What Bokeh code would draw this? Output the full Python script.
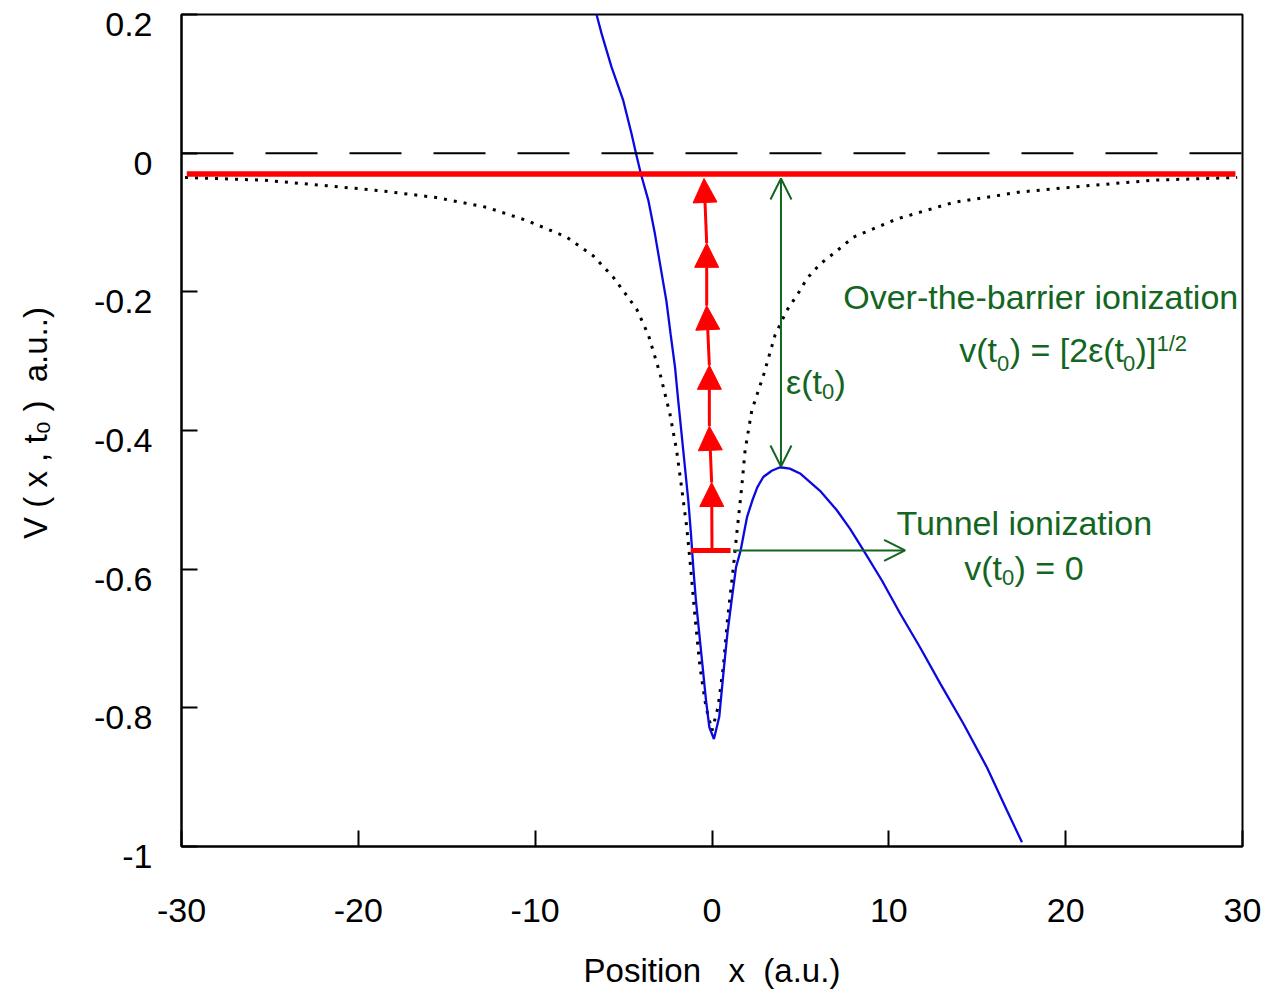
from math import pi

from bokeh.core.properties import value
from bokeh.embed import file_html
from bokeh.layouts import row
from bokeh.models import (Arrow, ColumnDataSource, FixedTicker, Label,
                          NormalHead, OpenHead, Span)
from bokeh.plotting import figure
from bokeh.resources import INLINE

# ---- data -------------------------------------------------------------------
# Field-dressed potential V(x, t0)
dressed_x = [-6.53, -6.24, -5.68, -5.02, -4.55, -4.30, -4.02, -3.60, -3.23, -2.91,
             -2.58, -2.34, -2.09, -1.91, -1.72, -1.53, -1.34, -1.19, -1.06, -0.91,
             -0.72, -0.53, -0.34, -0.15, 0.11, 0.41, 0.68, 0.87, 1.11, 1.36,
             1.62, 1.80, 1.98, 2.28, 2.56, 2.90, 3.38, 3.85, 4.40, 4.98, 6.11,
             7.06, 7.81, 8.57, 9.60, 10.64, 11.77, 12.91, 14.22, 15.55, 16.68, 17.53]
dressed_y = [0.200, 0.172, 0.124, 0.076, 0.028, 0.000, -0.030, -0.068, -0.116, -0.164,
             -0.213, -0.261, -0.309, -0.357, -0.405, -0.453, -0.501, -0.549, -0.597, -0.645,
             -0.693, -0.741, -0.789, -0.828, -0.845, -0.813, -0.741, -0.693, -0.645, -0.597,
             -0.573, -0.549, -0.525, -0.501, -0.482, -0.467, -0.458, -0.453, -0.455, -0.462, -0.487,
             -0.515, -0.542, -0.573, -0.616, -0.664, -0.713, -0.765, -0.823, -0.886, -0.948, -0.994]

# Field-free atomic potential
atomic_x = [-29.8, -25.3, -21.8, -18.8, -15.6, -12.75, -10.49, -8.22, -6.72, -5.58,
            -4.26, -3.60, -2.94, -2.38, -2.00, -1.72, -1.43, -1.21, -0.96, -0.68,
            -0.34, 0.0, 0.34, 0.64, 0.87, 1.21, 1.40, 1.68, 1.87, 2.25,
            2.94, 3.57, 4.23, 4.98, 5.36, 6.11, 6.96, 8.00, 10.45, 13.66,
            17.43, 21.2, 24.98, 29.7]
atomic_y = [-0.035, -0.039, -0.047, -0.054, -0.064, -0.078, -0.097, -0.121, -0.148, -0.179,
            -0.225, -0.262, -0.318, -0.376, -0.429, -0.482, -0.539, -0.597, -0.669, -0.741,
            -0.799, -0.833, -0.799, -0.741, -0.674, -0.597, -0.549, -0.482, -0.429, -0.371,
            -0.318, -0.262, -0.227, -0.198, -0.181, -0.160, -0.143, -0.121, -0.095, -0.071,
            -0.056, -0.047, -0.039, -0.035]

# Energy levels
upper_level_x = [-29.7, 29.6]
upper_level_y = [-0.03, -0.03]
bound_level_x = [-1.2, 1.05]
bound_level_y = [-0.573, -0.573]

# Chain of excitation steps from the bound level upwards
step_x = [0.0, -0.02, -0.15, -0.15, -0.30, -0.30, -0.45]
step_y = [-0.573, -0.475, -0.394, -0.306, -0.220, -0.130, -0.0365]

# epsilon(t0) gap arrow and tunnelling arrow
gap_x = [3.9, 3.9]
gap_y = [-0.0365, -0.452]
tunnel_x = [1.19, 10.92]
tunnel_y = [-0.573, -0.573]

x_ticks = [-30, -20, -10, 0, 10, 20, 30]
x_tick_labels = ["-30", "-20", "-10", "0", "10", "20", "30"]
y_ticks = [0.2, 0.0, -0.2, -0.4, -0.6, -0.8, -1.0]
y_tick_labels = ["0.2", "0", "-0.2", "-0.4", "-0.6", "-0.8", "-1"]

# ---- layout / styling ----------------------------------------------------------
FONT = "Liberation Sans"
GREEN = "#13661f"
RED = "#ff0000"
BLUE = "#0a0ae0"
X0, X1, Y0, Y1 = -30, 30, -1.0, 0.2
W, H = 1268, 994
SIDE_W = 153                      # strip holding the y tick labels and y title
LEFT = 181 - SIDE_W               # left border of the main plot
TOP, BOTTOM, RIGHT = 14, 148, 26  # other borders of the main plot
FRAME_H = H - TOP - BOTTOM
k = (Y1 - Y0) / FRAME_H           # data units per pixel, vertically

# main plot ---------------------------------------------------------------------
p = figure(width=W - SIDE_W, height=H, x_range=(X0, X1), y_range=(Y0, Y1),
           output_backend="svg", toolbar_location=None,
           min_border_left=LEFT, min_border_right=RIGHT,
           min_border_top=TOP, min_border_bottom=BOTTOM)
p.frame_align = False
p.grid.visible = False
p.outline_line_color = "black"
p.outline_line_width = 2
p.background_fill_color = "white"
p.border_fill_color = "white"

for ax in (p.xaxis[0], p.yaxis[0]):
    ax.axis_line_width = 2
    ax.major_tick_line_width = 2
    ax.major_tick_in = 16
    ax.major_tick_out = 0
    ax.minor_tick_line_color = None
    ax.major_label_text_font = FONT
    ax.major_label_text_font_size = "34px"
    ax.major_label_text_color = "black"

p.xaxis.ticker = FixedTicker(ticks=x_ticks)
p.xaxis.major_label_overrides = {t: s for t, s in zip(x_ticks, x_tick_labels)}
p.xaxis.major_label_standoff = 52
p.xaxis.axis_label = "Position\u00a0\u00a0\u00a0x\u00a0\u00a0(a.u.)"
p.xaxis.axis_label_text_font = FONT
p.xaxis.axis_label_text_font_size = "33px"
p.xaxis.axis_label_text_font_style = "normal"
p.xaxis.axis_label_text_color = "black"
p.xaxis.axis_label_standoff = 27

# the left axis carries only the tick marks; its labels are set in the side strip
p.yaxis.ticker = FixedTicker(ticks=y_ticks)
p.yaxis.major_label_overrides = {t: "" for t in y_ticks}
p.yaxis.major_label_text_color = None
p.yaxis.major_label_standoff = 0

# side strip with the y tick labels (set just below their ticks) and the y title
side = figure(width=SIDE_W, height=H, x_range=(0, SIDE_W),
              y_range=(Y0 - BOTTOM * k, Y1 + TOP * k),
              output_backend="svg", toolbar_location=None,
              min_border=0, min_border_left=0, min_border_right=0,
              min_border_top=0, min_border_bottom=0,
              x_axis_location=None, y_axis_location=None)
side.frame_align = False
side.grid.visible = False
side.outline_line_color = None
side.background_fill_color = "white"
side.border_fill_color = "white"

label_shift = 10 * k
side.text(x=[SIDE_W - 1] * len(y_ticks), y=[t - label_shift for t in y_ticks],
          text=y_tick_labels, text_font=value(FONT), text_font_size="34px",
          text_color="black", text_align="right", text_baseline="middle")
side.text(x=[35], y=[Y1 - (422.5 - TOP) * k], text=["V ( x , t\u2080 )\u00a0\u00a0a.u..)"],
          angle=pi / 2, text_font=value(FONT), text_font_size="33px",
          text_color="black", text_align="center", text_baseline="middle")

# ---- curves and levels ---------------------------------------------------------
p.add_layout(Span(location=0, dimension="width", line_color="black",
                  line_width=2, line_dash="52 32"))
p.line(atomic_x, atomic_y, line_color="black", line_width=3, line_dash="3 7")
p.line(dressed_x, dressed_y, line_color=BLUE, line_width=2.3)
p.line(upper_level_x, upper_level_y, line_color=RED, line_width=5.5)
p.line(bound_level_x, bound_level_y, line_color=RED, line_width=5)

steps = ColumnDataSource(dict(x0=step_x[:-1], y0=step_y[:-1], x1=step_x[1:], y1=step_y[1:]))
p.add_layout(Arrow(source=steps, x_start="x0", y_start="y0", x_end="x1", y_end="y1",
                   line_color=RED, line_width=3,
                   end=NormalHead(size=24, fill_color=RED, line_color=RED, line_width=1)))

p.add_layout(Arrow(x_start=gap_x[0], y_start=gap_y[0], x_end=gap_x[1], y_end=gap_y[1],
                   line_color=GREEN, line_width=2,
                   start=OpenHead(size=21, line_color=GREEN, line_width=2),
                   end=OpenHead(size=21, line_color=GREEN, line_width=2)))
p.add_layout(Arrow(x_start=tunnel_x[0], y_start=tunnel_y[0], x_end=tunnel_x[1], y_end=tunnel_y[1],
                   line_color=GREEN, line_width=2,
                   end=OpenHead(size=21, line_color=GREEN, line_width=2)))


# ---- annotation text -----------------------------------------------------------
def put(x, y, text, dx=0, dy=0, size=34, color=GREEN, align="left"):
    p.add_layout(Label(x=x, y=y, text=text, x_offset=dx, y_offset=dy,
                       text_font=FONT, text_font_size=f"{size}px", text_color=color,
                       text_align=align, text_baseline="alphabetic"))


put(18.59, -0.2081, "Over-the-barrier ionization", align="center")

# v(t0) = [2 eps(t0)]^(1/2)
fx, fy = 13.98, -0.2846
put(fx, fy, "v(t")
put(fx, fy, "0", dx=37.8, dy=-13, size=22)
put(fx, fy, ") = [2\u03b5(t", dx=50.5)
put(fx, fy, "0", dx=163.8, dy=-13, size=22)
put(fx, fy, ")]", dx=176.4)
put(fx, fy, "1/2", dx=197.2, dy=7, size=22)

# eps(t0)
ex, ey = 4.19, -0.3307
put(ex, ey, "\u03b5(t")
put(ex, ey, "0", dx=36.0, dy=-9, size=22)
put(ex, ey, ")", dx=48.5)

put(17.66, -0.5327, "Tunnel ionization", align="center")

# v(t0) = 0
tx, ty = 14.26, -0.5976
put(tx, ty, "v(t")
put(tx, ty, "0", dx=37.8, dy=-10, size=22)
put(tx, ty, ") = 0", dx=50.4)

layout = row(side, p, spacing=0)
open("out.html", "w").write(file_html(layout, INLINE))
